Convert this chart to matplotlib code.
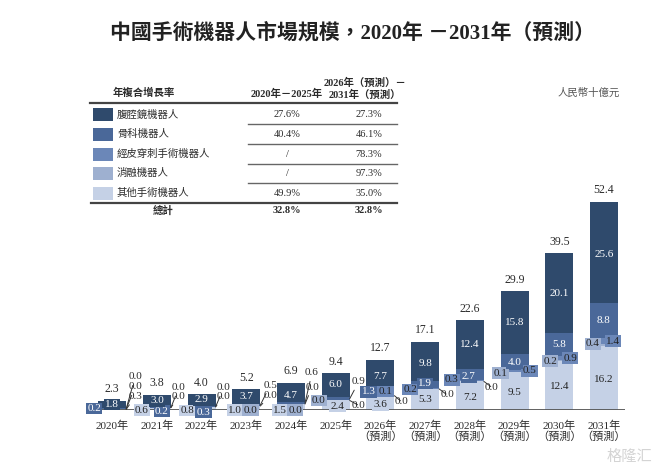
import matplotlib
matplotlib.use('Agg')
import matplotlib.pyplot as plt
from matplotlib.patches import Rectangle
from matplotlib.lines import Line2D

W, H = 654, 468
plt.rcParams['font.family'] = ['Liberation Serif', 'Noto Sans CJK TC']

# ---------------- data ----------------
years = ['2020年', '2021年', '2022年', '2023年', '2024年', '2025年',
         '2026年', '2027年', '2028年', '2029年', '2030年', '2031年']
forecast = [False] * 6 + [True] * 6
series_names = ['腹腔鏡機器人', '骨科機器人', '經皮穿刺手術機器人', '消融機器人', '其他手術機器人']
laparoscopic = [1.8, 3.0, 2.9, 3.7, 4.7, 6.0, 7.7, 9.8, 12.4, 15.8, 20.1, 25.6]
orthopedic = [0.2, 0.2, 0.3, 0.5, 0.6, 0.9, 1.3, 1.9, 2.7, 4.0, 5.8, 8.8]
percutaneous = [0.0, 0.0, 0.0, 0.0, 0.0, 0.0, 0.1, 0.2, 0.3, 0.5, 0.9, 1.4]
ablation = [0.0, 0.0, 0.0, 0.0, 0.0, 0.0, 0.0, 0.0, 0.0, 0.1, 0.2, 0.4]
others = [0.3, 0.6, 0.8, 1.0, 1.5, 2.4, 3.6, 5.3, 7.2, 9.5, 12.4, 16.2]
totals = [2.3, 3.8, 4.0, 5.2, 6.9, 9.4, 12.7, 17.1, 22.6, 29.9, 39.5, 52.4]
cagr_2020_2025 = ['27.6%', '40.4%', '/', '/', '49.9%']
cagr_2026_2031 = ['27.3%', '46.1%', '78.3%', '97.3%', '35.0%']
cagr_total = ['32.8%', '32.8%']

# ---------------- style ----------------
colors = ['#2f4a6c', '#4a6899', '#6b87b8', '#9eb0d0', '#c5d1e6']
box_text = ['white', 'white', '#222222', '#222222', '#222222']
dark = '#2b2b2b'

# label layout (dx, dy in pixels from segment centre, mode)
B, L = 'box', 'lead'
layout = {
    'lap': [(0, 0, B)] * 4 + [(0, -3, B), (0, 0, B), (0, -2, B), (0, -2, B),
                              (0, 0, B), (0, 0, B), (0, 0, B), (0, -2, B)],
    'ortho': [(-18, 0, B), (5, -4, B), (2, -6, B), (24, 20, L), (21, 30, L), (23, 17, L),
              (-12, 1, B), (0, 1, B), (-1, -2, B), (0, -1, B), (0, 0, B), (0, 0, B)],
    'perc': [(23, 32, L), (22, 20, L), (22, 19, L), (24, 11, L), (21, 17, L), (23, -5, L),
             (5, 4, B), (-15, -1, B), (-18, 1, B), (15, 0, B), (11, 0, B), (9, 0, B)],
    'abl': [(23, 22, L), (22, 11, L), (22, 10, L), (4, -4, B), (4, -6, B), (-17, 0, B),
            (21, -6, L), (22, -6, L), (22, -6, L), (-14, -1, B), (-9, -1, B), (-11, 1, B)],
    'oth': [(23, 13, L), (-15, -1.5, B), (-14, -2, B), (-11, -2, B), (-11, -3, B), (2, -1, B),
            (0, -2, B), (0, 0, B), (0, -2, B), (0, -1, B), (0, -1, B), (0, -2, B)],
}

fig = plt.figure(figsize=(W / 100, H / 100), dpi=100)

def fx(x):
    return x / W

def fy(y):
    return 1 - y / H

# axes placed so baseline sits at y=410px, bars from x=86..625px
ax = fig.add_axes([fx(86), fy(410), (625 - 86) / W, 0.5096])
ax.set_xlim(-0.586, 11.47)
ax.set_ylim(0, 60)
for s in ax.spines.values():
    s.set_visible(False)
ax.set_yticks([])

bw = 0.626
x = list(range(len(years)))
stack = [('oth', others, 4), ('abl', ablation, 3), ('perc', percutaneous, 2),
         ('ortho', orthopedic, 1), ('lap', laparoscopic, 0)]
bottoms = [0.0] * len(years)
seg_info = []
for key, vals, ci in stack:
    ax.bar(x, vals, bw, bottom=bottoms, color=colors[ci], edgecolor='none', zorder=2)
    for i, v in enumerate(vals):
        seg_info.append((key, ci, i, v, bottoms[i] + v / 2))
    bottoms = [b + v for b, v in zip(bottoms, vals)]

ax.axhline(0, color='#555555', lw=1.3, zorder=3)

fig.canvas.draw()
inv = ax.transData.inverted()
for key, ci, i, v, ym in seg_info:
    dx, dy, mode = layout[key][i]
    txt = f'{v:.1f}'
    if mode == B:
        ax.annotate(txt, xy=(i, ym), xytext=(dx, dy), textcoords='offset pixels',
                    ha='center', va='center', fontsize=8, color=box_text[ci], zorder=5,
                    annotation_clip=False,
                    bbox=dict(boxstyle='square,pad=0.12', fc=colors[ci], ec='none'))
    else:
        px, py = ax.transData.transform((i, ym))
        tx, ty = inv.transform((px + dx, py + dy))
        ax.annotate(txt, xy=(i + bw / 2, ym), xytext=(tx, ty), textcoords='data',
                    ha='center', va='center', fontsize=8, color=dark, zorder=5,
                    annotation_clip=False,
                    arrowprops=dict(arrowstyle='-', color='#333333', lw=0.7,
                                    shrinkA=1, shrinkB=0))

for i, t in enumerate(totals):
    ax.annotate(f'{t:.1f}', xy=(i, bottoms[i]), xytext=(0, 11.5), textcoords='offset pixels',
                ha='center', va='center', fontsize=8.5, color=dark, zorder=5)

ax.set_xticks(x)
ax.set_xticklabels([y + ('\n（預測）' if f else '') for y, f in zip(years, forecast)],
                   fontsize=8, color=dark, linespacing=1.0, va='top')
ax.tick_params(axis='x', length=0, pad=8)

# ---------------- title ----------------
fig.text(fx(353), fy(33), '中國手術機器人市場規模，2020年 －2031年（預測）',
         ha='center', va='center', fontsize=15, fontweight='bold', color='#222222')

# ---------------- unit ----------------
fig.text(fx(589), fy(93), '人民幣十億元', ha='center', va='center', fontsize=7.5, color='#555555')

# ---------------- CAGR table ----------------
fs = 7.5
fig.text(fx(144), fy(93), '年複合增長率', ha='center', va='center', fontsize=fs,
         fontweight='bold', color=dark)
fig.text(fx(287), fy(94), '2020年－2025年', ha='center', va='center', fontsize=fs,
         fontweight='bold', color=dark)
fig.text(fx(365), fy(83), '2026年（預測）－', ha='center', va='center', fontsize=fs,
         fontweight='bold', color=dark)
fig.text(fx(365), fy(95), '2031年（預測）', ha='center', va='center', fontsize=fs,
         fontweight='bold', color=dark)

fig.add_artist(Line2D([fx(90), fx(397)], [fy(103), fy(103)], color='#444444', lw=1.6))
row_y = [114.5, 134.3, 154.3, 173.3, 193.3]
for r, (name, c1, c2) in enumerate(zip(series_names, cagr_2020_2025, cagr_2026_2031)):
    yy = row_y[r]
    fig.add_artist(Rectangle((fx(93), fy(yy + 6.7)), 20 / W, 13.4 / H,
                             transform=fig.transFigure, fc=colors[r], ec='none'))
    fig.text(fx(117), fy(yy), name, ha='left', va='center', fontsize=fs, color=dark)
    fig.text(fx(287), fy(yy), c1, ha='center', va='center', fontsize=fs, color=dark)
    fig.text(fx(369), fy(yy), c2, ha='center', va='center', fontsize=fs, color=dark)
for ly in [124, 144, 164, 183]:
    fig.add_artist(Line2D([fx(248), fx(397)], [fy(ly), fy(ly)], color='#666666', lw=1.0))
fig.add_artist(Line2D([fx(91), fx(397)], [fy(203), fy(203)], color='#444444', lw=1.6))
fig.text(fx(163), fy(210.5), '總計', ha='center', va='center', fontsize=fs,
         fontweight='bold', color=dark)
fig.text(fx(287), fy(210.5), cagr_total[0], ha='center', va='center', fontsize=fs,
         fontweight='bold', color=dark)
fig.text(fx(369), fy(210.5), cagr_total[1], ha='center', va='center', fontsize=fs,
         fontweight='bold', color=dark)

# watermark
fig.text(fx(652), fy(457), '格隆汇', ha='right', va='center', fontsize=11, color='#d4d4d4')

fig.savefig('out.png', dpi=100)
